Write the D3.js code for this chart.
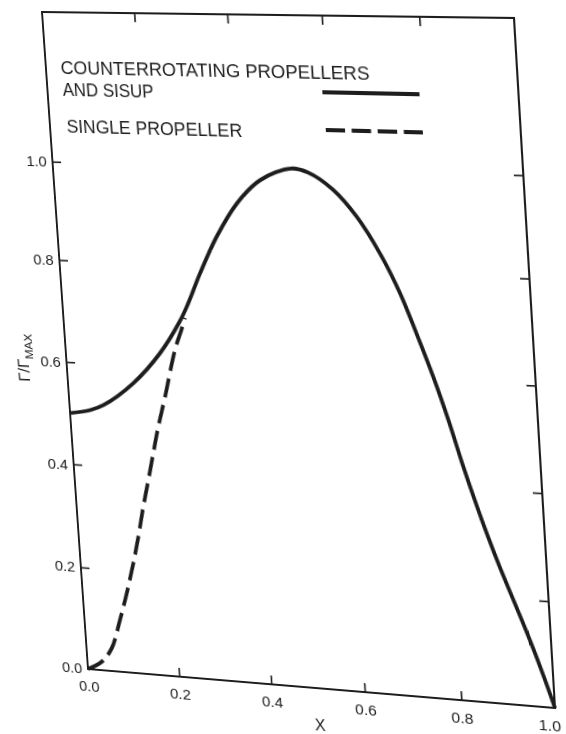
<!DOCTYPE html>
<html><head><meta charset="utf-8">
<script src="https://cdn.jsdelivr.net/npm/d3@7"></script>
<style>
html,body{margin:0;padding:0;background:#fff;overflow:hidden;width:566px;height:734px;}
#wrap{position:absolute;left:0;top:0;width:566px;height:734px;overflow:hidden;}
#wrap svg{position:absolute;left:0;top:0;transform-origin:0 0;overflow:visible;}
</style></head><body><div id="wrap"></div>
<script>
// ---- data ----
const solidX = [0, 0.0445, 0.0745, 0.1435, 0.206, 0.254, 0.275, 0.305, 0.346, 0.394, 0.447, 0.515, 0.55, 0.60, 0.646, 0.690, 0.726, 0.755, 0.784, 0.81, 0.834, 0.86, 0.88, 0.90, 0.92, 0.94, 0.96, 0.98, 1.0];
const solidY = [0.50, 0.508, 0.519, 0.565, 0.626, 0.690, 0.726, 0.785, 0.859, 0.927, 0.975, 1.0, 0.993, 0.961, 0.909, 0.837, 0.762, 0.686, 0.605, 0.525, 0.445, 0.366, 0.31, 0.258, 0.21, 0.162, 0.112, 0.058, 0.0];
const dashX = [0, 0.0316, 0.0558, 0.0785, 0.0973, 0.1164, 0.1314, 0.1468, 0.1618, 0.1766, 0.1914, 0.210, 0.2393, 0.2568, 0.2655];
const dashY = [0, 0.0167, 0.0448, 0.102, 0.155, 0.215, 0.267, 0.326, 0.378, 0.431, 0.483, 0.54, 0.634, 0.675, 0.697];
const xTicks = [0, 0.2, 0.4, 0.6, 0.8, 1.0];
const xTickLabels = ["0.0", "0.2", "0.4", "0.6", "0.8", "1.0"];
const yTicks = [0, 0.2, 0.4, 0.6, 0.8, 1.0];
const yTickLabels = ["0.0", "0.2", "0.4", "0.6", "0.8", "1.0"];
const xDomain = [0, 1];
const yDomain = [0, 1.3];
const legendSolidLines = ["COUNTERROTATING PROPELLERS", "AND SISUP"];
const legendDashLines = ["SINGLE PROPELLER"];
const xTitle = "X";

// ---- layout ----
const plot = {left: 60, top: 20, width: 470, height: 670};
// where the frame corners sit in the (skewed) scan: TL, TR, BR, BL
const imgCorners = [[42, 12], [514, 18], [555, 708], [88, 669]];
// small uneven spacing of the scanned axes (px), at the tick values
const xWarpAt = [0, 0.2, 0.4, 0.6, 0.8, 1.0], xWarpPx = [0, 1.5, 2, 2.1, 3.3, 0];
const yWarpAt = [0, 0.2, 0.4, 0.6, 0.8, 1.0, 1.3], yWarpPx = [0, -2.0, -4.8, -6.5, -7.2, -3.8, 0];
const ink = "#1d1d1d";

const svg = d3.select("#wrap").append("svg")
  .attr("width", 600).attr("height", 780)
  .style("font-family", "'Liberation Sans', Arial, Helvetica, sans-serif");

const xl = d3.scaleLinear().domain(xDomain).range([plot.left, plot.left + plot.width]);
const yl = d3.scaleLinear().domain(yDomain).range([plot.top + plot.height, plot.top]);
const x = d3.scaleLinear().domain(xWarpAt).range(xWarpAt.map((d, i) => xl(d) + xWarpPx[i]));
const y = d3.scaleLinear().domain(yWarpAt).range(yWarpAt.map((d, i) => yl(d) + yWarpPx[i]));

// frame
svg.append("rect")
  .attr("x", x(0)).attr("y", y(yDomain[1]))
  .attr("width", x(1) - x(0)).attr("height", y(0) - y(yDomain[1]))
  .attr("fill", "none").attr("stroke", ink).attr("stroke-width", 2);

// axes (ticks pointing inward on all four sides)
const tickLen = 9;
const innerX = xTicks.filter(d => d > 0 && d < 1);
const innerY = yTicks.filter(d => d > 0);
const axB = svg.append("g").attr("transform", `translate(0,${y(0)})`)
  .call(d3.axisTop(x).tickValues(innerX).tickSize(tickLen).tickFormat(""));
const axT = svg.append("g").attr("transform", `translate(0,${y(yDomain[1])})`)
  .call(d3.axisBottom(x).tickValues(innerX).tickSize(tickLen).tickFormat(""));
const axL = svg.append("g").attr("transform", `translate(${x(0)},0)`)
  .call(d3.axisRight(y).tickValues(innerY).tickSize(tickLen).tickFormat(""));
const axR = svg.append("g").attr("transform", `translate(${x(1)},0)`)
  .call(d3.axisLeft(y).tickValues(innerY).tickSize(tickLen).tickFormat(""));
[axB, axT, axL, axR].forEach(a => {
  a.select(".domain").remove();
  a.selectAll("line").attr("stroke", ink).attr("stroke-width", 1.6);
});

// tick labels
svg.append("g").selectAll("text").data(xTicks).join("text")
  .attr("x", d => x(d)).attr("y", y(0) + 23.5)
  .attr("dx", d => d === 1 ? -6 : 0)
  .attr("text-anchor", "middle").attr("font-size", 15.5).attr("fill", ink)
  .text((d, i) => xTickLabels[i]);
svg.append("g").selectAll("text").data(yTicks).join("text")
  .attr("x", x(0) - 6).attr("y", d => y(d) + 5.5)
  .attr("text-anchor", "end").attr("font-size", 15.5).attr("fill", ink)
  .text((d, i) => yTickLabels[i]);

// axis titles
svg.append("text").attr("x", x(0.5)).attr("y", y(0) + 43)
  .attr("text-anchor", "middle").attr("font-size", 16).attr("fill", ink).text(xTitle);
const yt = svg.append("text")
  .attr("transform", `translate(${x(0) - 40},${y(0.6) - 2}) rotate(-90)`)
  .attr("text-anchor", "middle").attr("font-size", 17).attr("fill", ink);
yt.append("tspan").text("Γ/Γ");
yt.append("tspan").attr("font-size", 12).attr("dy", 5).text("MAX");

// curves
const line = d3.line().x(d => x(d[0])).y(d => y(d[1])).curve(d3.curveCatmullRom.alpha(0.5));
svg.append("path").datum(dashX.map((v, i) => [v, dashY[i]]))
  .attr("d", line).attr("fill", "none").attr("stroke", ink)
  .attr("stroke-width", 3.8).attr("stroke-dasharray", "20 8");
svg.append("path").datum(solidX.map((v, i) => [v, solidY[i]]))
  .attr("d", line).attr("fill", "none").attr("stroke", ink)
  .attr("stroke-width", 3.8);

// legend
const lg = svg.append("g").attr("fill", ink).attr("font-size", 18);
lg.append("text").attr("x", 75.5).attr("y", 82).attr("textLength", 312)
  .attr("lengthAdjust", "spacingAndGlyphs").text(legendSolidLines[0]);
lg.append("text").attr("x", 76).attr("y", 104).attr("textLength", 94)
  .attr("lengthAdjust", "spacingAndGlyphs").text(legendSolidLines[1]);
lg.append("text").attr("x", 77.5).attr("y", 141).attr("textLength", 180)
  .attr("lengthAdjust", "spacingAndGlyphs").text(legendDashLines[0]);
svg.append("line").attr("x1", 340).attr("x2", 435).attr("y1", 95).attr("y2", 95)
  .attr("stroke", ink).attr("stroke-width", 4);
svg.append("line").attr("x1", 341).attr("x2", 436).attr("y1", 132).attr("y2", 132)
  .attr("stroke", ink).attr("stroke-width", 4).attr("stroke-dasharray", "19 6.5");

// ---- map the flat chart onto the skewed page of the scan (projective transform) ----
function homography(src, dst) {
  const A = [];
  for (let i = 0; i < 4; i++) {
    const [sx, sy] = src[i], [u, v] = dst[i];
    A.push([sx, sy, 1, 0, 0, 0, -sx * u, -sy * u, u]);
    A.push([0, 0, 0, sx, sy, 1, -sx * v, -sy * v, v]);
  }
  const n = 8;
  for (let c = 0; c < n; c++) {
    let p = c;
    for (let r = c + 1; r < n; r++) if (Math.abs(A[r][c]) > Math.abs(A[p][c])) p = r;
    [A[c], A[p]] = [A[p], A[c]];
    for (let r = 0; r < n; r++) {
      if (r === c) continue;
      const f = A[r][c] / A[c][c];
      for (let k = c; k <= n; k++) A[r][k] -= f * A[c][k];
    }
  }
  return A.map((row, i) => row[n] / row[i]);
}
const L = x(0), R = x(1), T = y(yDomain[1]), B = y(0);
const h = homography([[L, T], [R, T], [R, B], [L, B]], imgCorners);
svg.style("transform",
  `matrix3d(${h[0]},${h[3]},0,${h[6]},${h[1]},${h[4]},0,${h[7]},0,0,1,0,${h[2]},${h[5]},0,1)`);
</script>
</body></html>
